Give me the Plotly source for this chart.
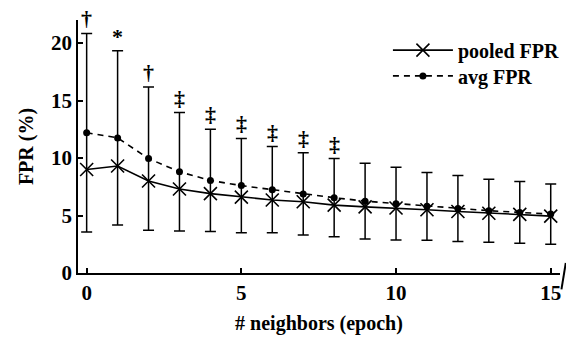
import plotly.graph_objects as go

neighbors = list(range(16))
pooled_fpr = [9.0, 9.3, 8.0, 7.3, 6.9, 6.6, 6.35, 6.2, 5.9, 5.75, 5.65, 5.5, 5.35, 5.2, 5.1, 4.95]
avg_fpr = [12.2, 11.75, 9.95, 8.8, 8.05, 7.6, 7.25, 6.88, 6.55, 6.25, 6.03, 5.8, 5.6, 5.42, 5.27, 5.12]
avg_err = [8.63, 7.58, 6.23, 5.15, 4.45, 4.1, 3.74, 3.58, 3.4, 3.29, 3.16, 2.95, 2.87, 2.74, 2.68, 2.62]
sig_marks = ["†", "*", "†", "‡", "‡", "‡", "‡", "‡", "‡", "", "", "", "", "", "", ""]
x_ticks = [0, 5, 10, 15]
y_ticks = [0, 5, 10, 15, 20]

FONT = "Liberation Serif"


def b(t):
    return "<b>" + str(t) + "</b>"


fig = go.Figure()
fig.add_trace(go.Scatter(
    x=neighbors, y=pooled_fpr, mode="lines+markers", name=b("pooled FPR"), legend="legend",
    line=dict(color="black", width=1.6),
    marker=dict(symbol="x-thin", size=13, line=dict(color="black", width=1.6), color="black"),
))
fig.add_trace(go.Scatter(
    x=neighbors, y=avg_fpr, mode="lines+markers", name=b("avg FPR"), legend="legend2",
    line=dict(color="black", width=1.6, dash="6px,5px"),
    marker=dict(symbol="circle", size=7, color="black"),
    error_y=dict(type="data", array=avg_err, visible=True, color="black", thickness=1.5, width=5.5),
))

for xv, yv, ev, m in zip(neighbors, avg_fpr, avg_err, sig_marks):
    if m:
        fig.add_annotation(x=xv, y=yv + ev, text=b(m), showarrow=False, yanchor="bottom", yshift=0,
                           font=dict(family=FONT, size=22, color="black"))

# axis break mark at the right end of the x axis
fig.add_shape(type="line", xref="paper", yref="paper", x0=1.012, y0=0.04, x1=1.003, y1=-0.065,
              line=dict(color="black", width=2))

leg_common = dict(xanchor="left", yanchor="middle", bgcolor="rgba(0,0,0,0)", itemwidth=60,
                  font=dict(family=FONT, size=20, color="black"))

fig.update_layout(
    width=566, height=339,
    margin=dict(l=78, r=6, t=20, b=66, autoexpand=False),
    paper_bgcolor="white", plot_bgcolor="white",
    font=dict(family=FONT, size=20, color="black"),
    showlegend=True,
    legend=dict(x=0.643, y=0.881, **leg_common),
    legend2=dict(x=0.643, y=0.779, **leg_common),
    xaxis=dict(range=[-0.28, 15.3], tickvals=x_ticks, ticktext=[b(t) for t in x_ticks],
               ticks="inside", ticklen=5, tickwidth=1.5,
               tickcolor="black", showline=True, linecolor="black", linewidth=1.5, showgrid=False,
               zeroline=False, automargin=False, tickfont=dict(family=FONT, size=21),
               title=dict(text=b("# neighbors (epoch)"), font=dict(family=FONT, size=20), standoff=12)),
    yaxis=dict(range=[0, 22], tickvals=y_ticks, ticktext=[b(t) for t in y_ticks],
               ticks="inside", ticklen=5, tickwidth=1.5,
               tickcolor="black", showline=True, linecolor="black", linewidth=1.5, showgrid=False,
               zeroline=False, automargin=False, tickfont=dict(family=FONT, size=21),
               title=dict(text=b("FPR (%)"), font=dict(family=FONT, size=20), standoff=12)),
)

fig.write_html("out.html", config={"displayModeBar": False},
               post_script="document.body.style.margin='0';")
